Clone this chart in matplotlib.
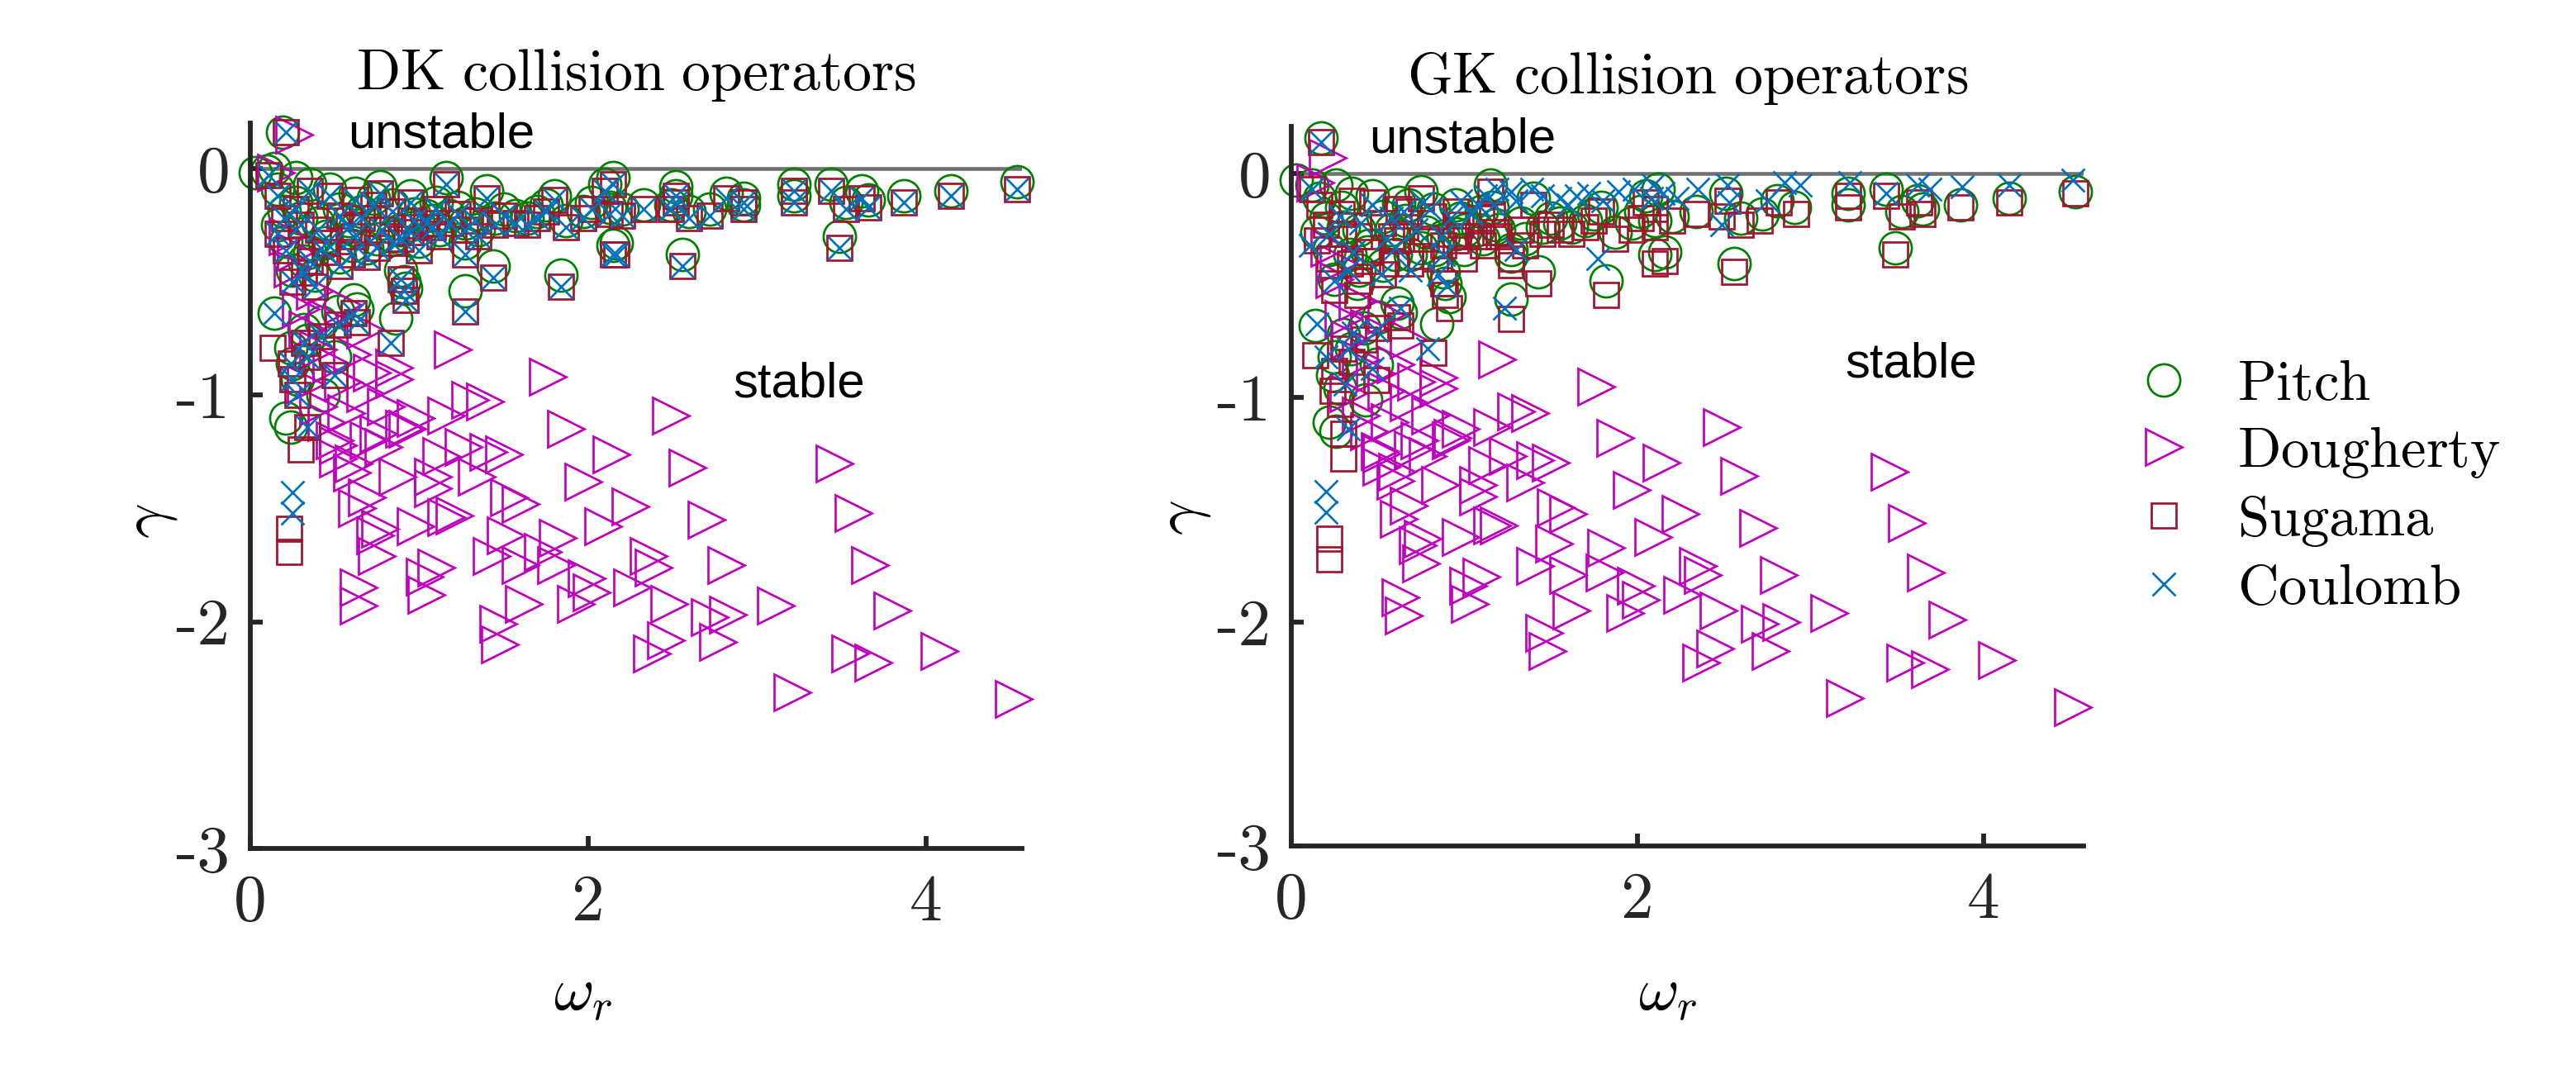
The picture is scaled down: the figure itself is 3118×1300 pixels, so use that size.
import numpy as np
import matplotlib
matplotlib.use("Agg")
import matplotlib.pyplot as plt
from matplotlib.lines import Line2D

plt.rcParams['mathtext.fontset'] = 'cm'

# (omega_r, gamma), one list per operator and panel
dk_pitch = [
    (0.19, 0.16), (0.03, -0.02), (0.14, 0.00), (0.27, -0.04), (0.10, -0.01),
    (0.27, -0.15), (0.47, -0.09), (0.77, -0.08), (1.16, -0.04), (1.40, -0.10), (1.80, -0.12), (2.10, -0.07),
    (0.16, -0.25), (0.21, -0.32), (0.35, -0.37), (0.53, -0.39), (0.32, -0.41), (0.69, -0.35), (0.89, -0.27),
    (0.97, -0.20), (0.84, -0.16), (0.73, -0.13), (0.53, -0.18), (0.40, -0.24), (0.61, -0.27), (1.23, -0.17),
    (1.27, -0.24), (1.27, -0.33), (1.44, -0.43), (1.27, -0.54), (1.84, -0.47), (1.57, -0.21), (1.64, -0.22),
    (1.87, -0.23), (1.97, -0.19), (2.13, -0.17), (2.15, -0.34), (0.89, -0.45), (0.91, -0.50), (0.92, -0.53),
    (1.12, -0.27), (1.04, -0.21), (0.84, -0.30),
    (0.20, -0.19), (0.30, -0.22), (0.45, -0.30), (0.58, -0.23), (0.66, -0.19), (0.78, -0.24), (0.95, -0.25),
    (1.08, -0.23), (1.18, -0.21), (1.33, -0.20), (1.45, -0.22), (1.50, -0.18), (1.70, -0.19), (1.75, -0.16),
    (2.02, -0.15), (0.25, -0.45), (0.38, -0.47), (0.44, -0.33), (0.60, -0.34), (0.75, -0.31), (1.00, -0.32),
    (1.35, -0.27), (1.10, -0.15), (0.95, -0.12), (0.62, -0.11), (0.35, -0.07), (0.16, -0.09),
    (2.15, -0.04), (2.20, -0.18), (2.33, -0.16), (2.52, -0.08), (2.52, -0.12), (2.49, -0.16), (2.60, -0.19),
    (2.72, -0.18), (2.82, -0.11), (2.92, -0.13), (2.92, -0.16), (3.22, -0.07), (3.22, -0.12), (3.44, -0.07),
    (3.53, -0.15), (3.62, -0.10), (3.66, -0.14), (3.87, -0.12), (4.15, -0.10), (4.54, -0.06), (2.17, -0.33),
    (2.56, -0.38), (3.49, -0.30),
    (0.61, -0.58), (0.63, -0.62), (0.86, -0.66), (0.52, -0.63), (0.42, -0.68), (0.32, -0.71), (0.14, -0.64),
    (0.24, -0.79), (0.34, -0.76), (0.50, -0.83), (0.25, -0.86), (0.21, -1.10), (0.24, -1.14), (0.43, -1.00),
    (0.28, -0.93),
]

dk_dougherty = [
    (1.20, -0.80), (1.76, -0.92), (1.39, -1.03), (1.30, -1.02), (1.16, -1.09), (1.87, -1.15), (2.49, -1.09),
    (2.14, -1.26), (1.50, -1.26), (1.41, -1.25), (1.26, -1.23), (2.59, -1.32), (1.97, -1.38), (2.25, -1.49),
    (1.60, -1.48), (1.53, -1.45), (2.70, -1.55), (2.09, -1.58), (1.82, -1.63), (2.36, -1.71), (2.39, -1.76),
    (2.82, -1.75), (1.73, -1.69), (1.81, -1.75), (1.99, -1.81), (2.02, -1.87), (2.26, -1.85), (2.48, -1.92),
    (2.72, -1.98), (2.83, -1.97), (2.46, -2.08), (2.77, -2.09), (2.38, -2.14), (1.62, -1.92), (1.93, -1.92),
    (1.47, -2.01), (1.48, -2.10), (1.10, -1.76), (1.03, -1.80), (1.04, -1.88), (0.64, -1.85), (0.64, -1.93),
    (0.75, -1.71), (0.74, -1.62), (0.77, -1.59), (0.98, -1.58), (1.21, -1.53), (1.16, -1.54), (1.51, -1.62),
    (1.60, -1.75), (1.43, -1.71), (1.34, -1.36), (1.08, -1.36), (1.08, -1.41), (0.87, -1.36), (0.63, -1.50),
    (0.69, -1.45), (0.60, -1.34), (0.52, -1.28), (0.50, -1.20), (0.98, -1.10), (0.91, -1.15), (0.76, -1.17),
    (0.79, -1.23),
    (3.46, -1.30), (3.57, -1.52), (3.67, -1.75), (3.11, -1.93), (3.80, -1.95), (3.55, -2.14), (3.69, -2.18),
    (4.08, -2.13), (3.21, -2.31), (4.52, -2.34),
    (0.26, 0.15), (0.15, -0.02), (0.85, -0.88), (0.85, -0.93), (0.68, -0.71), (0.55, -0.60), (0.38, -0.54),
    (0.25, -0.44), (0.27, -0.37), (0.93, -1.15), (0.68, -0.99), (0.55, -0.94), (0.48, -0.86), (0.40, -0.80),
    (0.34, -0.71), (0.52, -1.22), (0.61, -1.30), (1.13, -1.27), (0.22, -0.30), (0.30, -0.62), (0.45, -0.66),
    (0.60, -0.82), (0.72, -0.90), (0.80, -1.05), (0.70, -1.20), (0.40, -1.05), (0.33, -0.95), (0.45, -1.12),
    (0.57, -1.08),
]

dk_sugama = [
    (0.21, 0.16), (0.11, -0.03),
    (0.27, -0.18), (0.47, -0.12), (0.77, -0.11), (1.16, -0.07), (1.40, -0.13), (1.80, -0.14), (2.10, -0.10),
    (0.16, -0.29), (0.21, -0.36), (0.35, -0.41), (0.53, -0.43), (0.32, -0.46), (0.69, -0.39), (0.89, -0.31),
    (0.97, -0.23), (0.84, -0.19), (0.73, -0.16), (0.53, -0.21), (0.40, -0.27), (0.61, -0.30), (1.23, -0.20),
    (1.27, -0.27), (1.27, -0.38), (1.44, -0.48), (1.27, -0.63), (1.84, -0.52), (1.57, -0.24), (1.64, -0.25),
    (1.87, -0.26), (1.97, -0.22), (2.13, -0.20), (2.15, -0.38), (0.89, -0.49), (0.91, -0.54), (0.92, -0.58),
    (1.12, -0.30), (1.04, -0.24), (0.84, -0.33),
    (0.20, -0.22), (0.30, -0.25), (0.45, -0.33), (0.58, -0.26), (0.66, -0.22), (0.78, -0.27), (0.95, -0.28),
    (1.08, -0.26), (1.18, -0.24), (1.33, -0.23), (1.45, -0.25), (1.50, -0.21), (1.70, -0.22), (1.75, -0.19),
    (2.02, -0.18), (0.25, -0.50), (0.38, -0.52), (0.44, -0.37), (0.60, -0.38), (0.75, -0.35), (1.00, -0.36),
    (1.35, -0.30), (1.10, -0.18), (0.95, -0.15), (0.62, -0.14), (0.35, -0.10), (0.16, -0.12),
    (2.15, -0.07), (2.20, -0.21), (2.33, -0.18), (2.52, -0.12), (2.52, -0.15), (2.49, -0.18), (2.60, -0.22),
    (2.72, -0.21), (2.82, -0.13), (2.92, -0.15), (2.92, -0.18), (3.22, -0.10), (3.22, -0.15), (3.44, -0.10),
    (3.53, -0.18), (3.62, -0.13), (3.66, -0.17), (3.87, -0.15), (4.15, -0.12), (4.54, -0.09), (2.17, -0.38),
    (2.56, -0.43), (3.49, -0.35),
    (0.61, -0.64), (0.63, -0.68), (0.83, -0.77), (0.52, -0.69), (0.42, -0.74), (0.32, -0.77), (0.13, -0.79),
    (0.24, -0.86), (0.34, -0.83), (0.50, -0.91), (0.25, -0.93), (0.28, -1.00), (0.34, -1.14), (0.30, -1.24),
    (0.23, -1.59), (0.23, -1.69),
]

dk_coulomb = [
    (0.21, 0.16), (0.11, -0.03),
    (0.27, -0.18), (0.47, -0.12), (0.77, -0.11), (1.16, -0.07), (1.40, -0.13), (1.80, -0.14), (2.10, -0.10),
    (0.16, -0.29), (0.21, -0.36), (0.35, -0.41), (0.53, -0.43), (0.32, -0.46), (0.69, -0.39), (0.89, -0.31),
    (0.97, -0.23), (0.84, -0.19), (0.73, -0.16), (0.53, -0.21), (0.40, -0.27), (0.61, -0.30), (1.23, -0.20),
    (1.27, -0.27), (1.27, -0.38), (1.44, -0.48), (1.27, -0.63), (1.84, -0.52), (1.57, -0.24), (1.64, -0.25),
    (1.87, -0.26), (1.97, -0.22), (2.13, -0.20), (2.15, -0.38), (0.89, -0.49), (0.91, -0.54), (0.92, -0.58),
    (1.12, -0.30), (1.04, -0.24), (0.84, -0.33),
    (0.20, -0.22), (0.30, -0.25), (0.45, -0.33), (0.58, -0.26), (0.66, -0.22), (0.78, -0.27), (0.95, -0.28),
    (1.08, -0.26), (1.18, -0.24), (1.33, -0.23), (1.45, -0.25), (1.50, -0.21), (1.70, -0.22), (1.75, -0.19),
    (2.02, -0.18), (0.25, -0.50), (0.38, -0.52), (0.44, -0.37), (0.60, -0.38), (0.75, -0.35), (1.00, -0.36),
    (1.35, -0.30), (1.10, -0.18), (0.95, -0.15), (0.62, -0.14), (0.35, -0.10), (0.16, -0.12),
    (2.15, -0.07), (2.20, -0.21), (2.33, -0.18), (2.52, -0.12), (2.52, -0.15), (2.49, -0.18), (2.60, -0.22),
    (2.72, -0.21), (2.82, -0.13), (2.92, -0.15), (2.92, -0.18), (3.22, -0.10), (3.22, -0.15), (3.44, -0.10),
    (3.53, -0.18), (3.62, -0.13), (3.66, -0.17), (3.87, -0.15), (4.15, -0.12), (4.54, -0.09), (2.17, -0.38),
    (2.56, -0.43), (3.49, -0.35),
    (0.61, -0.64), (0.63, -0.68), (0.83, -0.77), (0.52, -0.69), (0.42, -0.74), (0.32, -0.77), (0.14, -0.64),
    (0.24, -0.86), (0.34, -0.83), (0.50, -0.91), (0.25, -0.93), (0.28, -1.00), (0.34, -1.14),
    (0.25, -1.43), (0.25, -1.52),
]

gk_pitch = [
    (0.17, 0.16), (0.03, -0.03), (0.26, -0.05), (0.12, -0.05),
    (0.47, -0.10), (0.75, -0.08), (1.15, -0.05), (1.40, -0.11), (1.79, -0.15), (2.05, -0.10), (0.29, -0.15),
    (0.15, -0.26), (0.22, -0.34), (0.34, -0.36), (0.39, -0.43), (0.53, -0.41), (0.69, -0.36), (0.88, -0.28),
    (0.98, -0.20), (0.82, -0.16), (0.68, -0.14), (0.53, -0.19), (0.39, -0.25), (0.61, -0.27), (1.16, -0.15),
    (1.20, -0.25), (1.27, -0.34), (1.27, -0.37), (1.43, -0.44), (1.27, -0.56), (1.82, -0.48), (1.55, -0.22),
    (1.62, -0.24), (1.87, -0.26), (1.97, -0.22), (2.10, -0.21), (2.10, -0.36), (0.88, -0.44), (0.89, -0.49),
    (0.91, -0.55), (1.11, -0.29), (1.01, -0.25), (0.83, -0.34),
    (0.20, -0.20), (0.30, -0.24), (0.45, -0.32), (0.58, -0.25), (0.66, -0.21), (0.78, -0.26), (0.95, -0.27),
    (1.08, -0.25), (1.18, -0.23), (1.33, -0.22), (1.45, -0.24), (1.50, -0.20), (1.70, -0.21), (1.75, -0.18),
    (2.02, -0.17), (0.25, -0.47), (0.38, -0.49), (0.44, -0.35), (0.60, -0.36), (0.75, -0.33), (1.00, -0.34),
    (1.35, -0.29), (1.10, -0.17), (0.95, -0.14), (0.62, -0.13), (0.35, -0.09), (0.16, -0.11),
    (2.12, -0.07), (2.20, -0.19), (2.34, -0.17), (2.51, -0.09), (2.60, -0.20), (2.72, -0.18), (2.81, -0.12),
    (2.91, -0.15), (3.22, -0.09), (3.22, -0.14), (3.44, -0.07), (3.53, -0.17), (3.62, -0.12), (3.65, -0.16),
    (3.87, -0.14), (4.15, -0.11), (4.53, -0.08), (2.16, -0.35), (2.56, -0.40), (3.49, -0.33),
    (0.61, -0.58), (0.63, -0.62), (0.14, -0.68), (0.84, -0.67), (0.50, -0.64), (0.42, -0.69), (0.30, -0.72),
    (0.25, -0.82), (0.35, -0.78), (0.49, -0.85), (0.24, -0.90), (0.22, -1.11), (0.26, -1.15), (0.43, -1.01),
    (0.28, -0.96),
]

gk_dougherty = [
    (1.19, -0.83), (1.76, -0.95), (1.38, -1.07), (1.30, -1.06), (1.16, -1.13), (1.87, -1.18), (2.49, -1.13),
    (2.14, -1.29), (1.50, -1.29), (1.41, -1.28), (1.25, -1.26), (2.59, -1.35), (1.97, -1.41), (2.25, -1.52),
    (1.60, -1.52), (1.53, -1.49), (2.70, -1.58), (2.09, -1.62), (1.82, -1.67), (2.35, -1.75), (2.38, -1.79),
    (2.82, -1.79), (1.81, -1.78), (1.99, -1.84), (2.02, -1.90), (2.26, -1.88), (2.47, -1.95), (2.71, -2.01),
    (2.83, -2.00), (2.45, -2.12), (2.77, -2.13), (2.37, -2.18), (1.62, -1.95), (1.93, -1.96), (1.46, -2.05),
    (1.48, -2.13), (1.10, -1.80), (1.03, -1.92), (1.02, -1.84), (0.63, -1.89), (0.65, -1.97), (0.75, -1.74),
    (0.73, -1.66), (0.76, -1.63), (0.98, -1.62), (1.20, -1.57), (1.16, -1.57), (1.52, -1.65), (1.60, -1.79),
    (1.41, -1.75), (1.35, -1.38), (1.08, -1.39), (1.08, -1.44), (0.86, -1.39), (0.62, -1.54), (0.68, -1.48),
    (0.60, -1.37), (0.52, -1.31), (0.51, -1.24), (0.98, -1.14), (0.92, -1.19), (0.74, -1.19), (0.79, -1.26),
    (3.46, -1.33), (3.56, -1.56), (3.67, -1.78), (3.11, -1.96), (3.79, -1.99), (3.55, -2.18), (3.69, -2.21),
    (4.08, -2.17), (3.20, -2.34), (4.52, -2.38),
    (0.21, 0.07), (0.14, -0.04), (0.85, -0.91), (0.85, -0.96), (0.68, -0.74), (0.55, -0.63), (0.38, -0.57),
    (0.25, -0.47), (0.27, -0.40), (0.93, -1.18), (0.68, -1.02), (0.55, -0.97), (0.48, -0.89), (0.40, -0.83),
    (0.34, -0.74), (0.52, -1.25), (0.61, -1.33), (1.13, -1.30), (0.22, -0.33), (0.30, -0.65), (0.45, -0.69),
    (0.60, -0.85), (0.72, -0.93), (0.80, -1.08), (0.70, -1.23), (0.40, -1.08), (0.33, -0.98), (0.45, -1.15),
    (0.57, -1.11),
]

gk_sugama = [
    (0.17, 0.14), (0.12, -0.07),
    (0.47, -0.13), (0.75, -0.11), (1.15, -0.08), (1.40, -0.14), (1.79, -0.17), (2.05, -0.13), (0.29, -0.18),
    (0.15, -0.30), (0.22, -0.38), (0.34, -0.40), (0.39, -0.48), (0.53, -0.45), (0.69, -0.40), (0.88, -0.32),
    (0.98, -0.23), (0.82, -0.19), (0.68, -0.17), (0.53, -0.22), (0.39, -0.28), (0.61, -0.30), (1.16, -0.18),
    (1.20, -0.28), (1.27, -0.38), (1.27, -0.41), (1.43, -0.49), (1.27, -0.65), (1.82, -0.54), (1.55, -0.25),
    (1.62, -0.27), (1.87, -0.29), (1.97, -0.25), (2.10, -0.24), (2.10, -0.40), (0.88, -0.49), (0.89, -0.54),
    (0.91, -0.60), (1.11, -0.32), (1.01, -0.28), (0.83, -0.38),
    (0.20, -0.23), (0.30, -0.27), (0.45, -0.35), (0.58, -0.28), (0.66, -0.24), (0.78, -0.29), (0.95, -0.30),
    (1.08, -0.28), (1.18, -0.26), (1.33, -0.25), (1.45, -0.27), (1.50, -0.23), (1.70, -0.24), (1.75, -0.21),
    (2.02, -0.20), (0.25, -0.52), (0.38, -0.54), (0.44, -0.39), (0.60, -0.40), (0.75, -0.37), (1.00, -0.38),
    (1.35, -0.32), (1.10, -0.20), (0.95, -0.17), (0.62, -0.16), (0.35, -0.12), (0.16, -0.14),
    (2.10, -0.16), (2.20, -0.21), (2.34, -0.18), (2.52, -0.12), (2.49, -0.19), (2.60, -0.23), (2.71, -0.21),
    (2.82, -0.13), (2.92, -0.18), (3.22, -0.10), (3.22, -0.15), (3.44, -0.10), (3.53, -0.19), (3.63, -0.13),
    (3.65, -0.18), (3.87, -0.15), (4.15, -0.13), (4.53, -0.09), (2.16, -0.39), (2.56, -0.44), (3.49, -0.36),
    (0.61, -0.64), (0.63, -0.68), (0.14, -0.81), (0.82, -0.80), (0.50, -0.69), (0.42, -0.74), (0.30, -0.78),
    (0.25, -0.88), (0.35, -0.84), (0.49, -0.92), (0.24, -0.97), (0.28, -1.03), (0.30, -1.16), (0.30, -1.27),
    (0.22, -1.63), (0.22, -1.72),
]

gk_coulomb = [
    (0.17, 0.14), (0.12, -0.07),
    (1.19, -0.07), (1.27, -0.08), (1.39, -0.07), (1.55, -0.11), (1.65, -0.10), (1.89, -0.08), (1.98, -0.07),
    (2.08, -0.11), (1.08, -0.14), (0.92, -0.20), (0.76, -0.13), (0.47, -0.14), (0.28, -0.19), (0.11, -0.32),
    (0.22, -0.27), (0.36, -0.35), (0.52, -0.45), (0.33, -0.43), (0.69, -0.43), (0.87, -0.28), (1.04, -0.18),
    (1.17, -0.14), (1.30, -0.34), (1.23, -0.60), (1.77, -0.38), (0.85, -0.45), (0.63, -0.60), (0.15, -0.67),
    (0.49, -0.70), (0.36, -0.71), (0.20, -0.82), (0.33, -0.78), (0.47, -0.87), (0.31, -0.94), (0.33, -1.14),
    (0.79, -0.78),
    (0.40, -0.22), (0.58, -0.20), (0.65, -0.17), (0.80, -0.16), (0.98, -0.12), (1.12, -0.10), (1.30, -0.12),
    (1.45, -0.10), (1.60, -0.14), (1.72, -0.09), (1.80, -0.12), (0.55, -0.29), (0.72, -0.25), (0.88, -0.36),
    (0.90, -0.50), (0.25, -0.48), (0.60, -0.33),
    (2.09, -0.05), (2.15, -0.09), (2.23, -0.11), (2.35, -0.07), (2.52, -0.05), (2.53, -0.13), (2.49, -0.23),
    (2.75, -0.12), (2.85, -0.04), (2.94, -0.05), (3.23, -0.04), (3.44, -0.09), (3.62, -0.05), (3.69, -0.07),
    (3.88, -0.06), (4.15, -0.05), (4.52, -0.03),
    (0.20, -1.42), (0.20, -1.51),
]

names = ["Pitch", "Dougherty", "Sugama", "Coulomb"]
panel_titles = ["DK collision operators", "GK collision operators"]

colors = ["#008000", "#bf00bf", "#a2142f", "#0072bd"]
markers = ["o", ">", "s", "x"]
msizes = [9.4, 10.6, 7.3, 6.8]

W, H = 3118, 1300
fig = plt.figure(figsize=(W / 300, H / 300), dpi=300)

ax_dk = fig.add_axes([303 / W, 1 - 1027 / H, 934 / W, 878 / H])
ax_gk = fig.add_axes([1563 / W, 1 - 1024 / H, 959 / W, 871 / H])

panels = [
    (ax_dk, [dk_pitch, dk_dougherty, dk_sugama, dk_coulomb], 4.57, 0.20, (0.58, 0.15), (2.86, -0.95)),
    (ax_gk, [gk_pitch, gk_dougherty, gk_sugama, gk_coulomb], 4.58, 0.21, (0.45, 0.15), (3.20, -0.85)),
]

for k, (ax, data, xmax, ymax, pos_u, pos_s) in enumerate(panels):
    ax.axhline(0, color="#707070", lw=1.1, zorder=1)
    for pts, c, m, ms in zip(data, colors, markers, msizes):
        arr = np.array(pts)
        ax.plot(arr[:, 0], arr[:, 1], ls="none", marker=m, ms=ms, mfc="none",
                mec=c, mew=0.65, clip_on=False, zorder=2)

    ax.set_xlim(0, xmax)
    ax.set_ylim(-3, ymax)
    for side in ["top", "right"]:
        ax.spines[side].set_visible(False)
    for side in ["left", "bottom"]:
        ax.spines[side].set_linewidth(1.4)
        ax.spines[side].set_color("#262626")
        ax.spines[side].set_zorder(3)

    ax.set_xticks([0, 2, 4])
    ax.set_xticklabels(["0", "2", "4"], fontfamily="cmr10", fontsize=19)
    ax.set_yticks([-3, -2, -1, 0])
    ax.set_yticklabels(["-3", "-2", "-1", "0"], fontfamily="cmr10", fontsize=19)
    ax.tick_params(direction="in", length=3.5, width=1.4, color="#262626", labelcolor="#262626")
    ax.tick_params(axis="x", pad=7.5)
    ax.tick_params(axis="y", pad=6)

    ax.set_title(r"$\mathrm{" + panel_titles[k].replace(" ", r"\ ") + "}$", fontsize=16.8, pad=9.5)
    ax.set_xlabel(r"$\omega_r$", fontsize=18, va="center")
    ax.set_ylabel(r"$\gamma$", fontsize=18, va="center")

    ax.text(pos_u[0], pos_u[1], "unstable", family="Liberation Sans", fontsize=14.4,
            ha="left", va="center")
    ax.text(pos_s[0], pos_s[1], "stable", family="Liberation Sans", fontsize=14.4,
            ha="left", va="center")

ax_dk.xaxis.set_label_coords(0.431, -0.20)
ax_dk.yaxis.set_label_coords(-0.131, 0.451)
ax_gk.xaxis.set_label_coords(0.475, -0.205)
ax_gk.yaxis.set_label_coords(-0.137, 0.456)

handles = [Line2D([], [], ls="none", marker=m, ms=ms, mfc="none", mec=c, mew=0.65)
           for c, m, ms in zip(colors, markers, msizes)]
labels = [r"$\mathrm{" + n + "}$" for n in names]
fig.legend(handles, labels, loc="center left", bbox_to_anchor=(2550 / W, 1 - 588 / H),
           frameon=False, fontsize=16.5, handlelength=2.0, handletextpad=0.3,
           labelspacing=0.2, borderpad=0, borderaxespad=0)

fig.savefig("out.png", dpi=300)
